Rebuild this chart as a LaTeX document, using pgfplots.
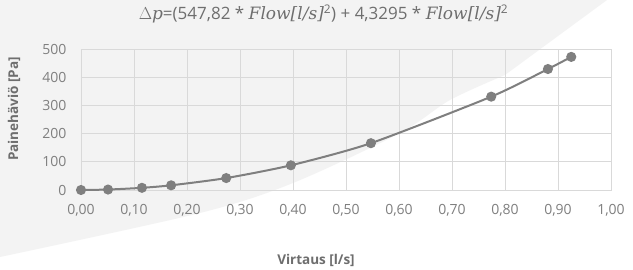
\documentclass[border=0pt]{standalone}
\usepackage{pgfplots}
\pgfplotsset{compat=1.18}
\usepackage{fontspec}
\setmainfont{Open Sans}
\newfontfamily\serifit{DejaVu Serif}
\definecolor{bgGray}{HTML}{F3F3F3}
\definecolor{gridGray}{HTML}{D9D9D9}
\definecolor{tickGray}{HTML}{7F7F7F}
\definecolor{labGray}{HTML}{6E6E6E}
\definecolor{serGray}{HTML}{7F7F7F}
\begin{document}
\begin{tikzpicture}[x=1pt,y=1pt]
\useasboundingbox (0,0) rectangle (633,270);
\fill[white] (0,0) rectangle (633,270);
% decorative background swoosh
\fill[bgGray] plot[smooth, tension=0.5] coordinates {(0,13) (200,57) (293,87) (400,137) (450,170) (505,195)} -- (607,270) -- (0,270) -- cycle;
\begin{axis}[
  at={(81pt,80pt)}, anchor=south west,
  scale only axis, width=530pt, height=141pt,
  xmin=0, xmax=1, ymin=0, ymax=500,
  xtick distance=0.1, ytick distance=100,
  grid=major, major grid style={gridGray, line width=0.8pt},
  axis line style={gridGray, line width=0.8pt},
  major tick length=0pt,
  tick label style={font=\fontsize{14}{16}\selectfont, text=tickGray},
  /pgf/number format/assume math mode=true,
  xticklabel style={/pgf/number format/use comma, /pgf/number format/fixed, /pgf/number format/fixed zerofill, /pgf/number format/precision=2, yshift=-11pt},
  yticklabel style={xshift=-11pt},
  clip=false,
]
\addplot[serGray, line width=2pt, smooth, tension=0.4, mark=*, mark size=4pt, mark options={fill=serGray, draw=serGray}]
coordinates {
(0.000,0)
(0.051,1.6)
(0.115,7.7)
(0.170,16.6)
(0.274,42.3)
(0.396,87.6)
(0.547,166)
(0.774,331)
(0.881,429)
(0.925,472)
};
\end{axis}
\node[font=\fontsize{17}{19}\selectfont, text=labGray] at (323.5,256) {$\Delta${\serifit\itshape p}=(547,82 * {\serifit\itshape Flow[l/s]}\textsuperscript{2}) + 4,3295 * {\serifit\itshape Flow[l/s]}\textsuperscript{2}};
\node[font=\fontsize{13.5}{15}\selectfont\bfseries, text=labGray] at (316,10) {Virtaus [l/s]};
\node[font=\fontsize{13.5}{15}\selectfont\bfseries, text=labGray, rotate=90] at (14,161) {Painehäviö [Pa]};
\end{tikzpicture}
\end{document}
